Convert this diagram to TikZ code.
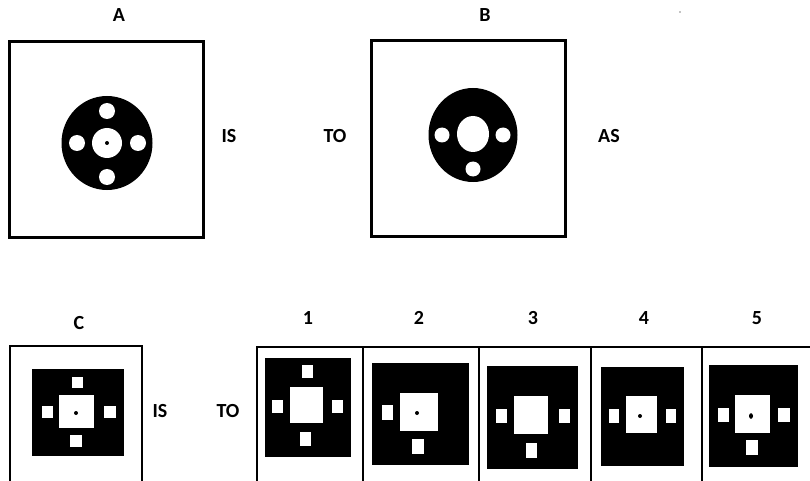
\documentclass[tikz,border=0pt]{standalone}
\usepackage{fontspec}
\setmainfont{Carlito}
\begin{document}
\begin{tikzpicture}[x=1pt,y=-1pt,
  lbl/.style={font=\bfseries\fontsize{20}{22}\selectfont, inner sep=0pt, anchor=center},
  bigframe/.style={draw=black, line width=3pt},
  smallframe/.style={draw=black, line width=2pt},
  blk/.style={fill=black},
  wht/.style={fill=white}]
\path[use as bounding box] (0,0) rectangle (810,481);
\clip (0,0) rectangle (810,481);
\fill[white] (0,0) rectangle (810,481);

% ---- A ----
\draw[bigframe] (9,42) rectangle (203,237);
\fill[blk] (107,143) ellipse [x radius=45.5, y radius=47];
\fill[wht] (107,143) circle [radius=15];
\fill[blk] (107,143) circle [radius=2];
\foreach \p in {(107,111),(77,143),(138,143),(107,177)} \fill[wht] \p circle [radius=8];

% ---- B ----
\draw[bigframe] (371,41) rectangle (565,236);
\fill[blk] (473,135) ellipse [x radius=44.5, y radius=47];
\fill[wht] (473,134) ellipse [x radius=16, y radius=18];
\foreach \p in {(442,135),(503,135),(473,169)} \fill[wht] \p circle [radius=7.5];

% ---- C ----
\draw[smallframe] (10,346) rectangle (142,495);
\fill[blk] (32,369) rectangle (124,456);
\fill[wht] (59,395) rectangle (94,428);
\fill[wht] (72,377) rectangle (83,388);
\fill[wht] (42,406) rectangle (53,418);
\fill[wht] (104,406) rectangle (116,418);
\fill[wht] (70,435) rectangle (82,447);
\fill[blk] (76,413) circle [radius=2];

% ---- options frames ----
\draw[smallframe] (257,347) rectangle (820,495);
\foreach \x in {363,479,591,702} \draw[smallframe] (\x,347) -- (\x,495);

% option 1
\fill[blk] (265,358) rectangle (351,457);
\fill[wht] (290,387) rectangle (323,423);
\fill[wht] (302,365) rectangle (313,378);
\fill[wht] (272,400) rectangle (283,413);
\fill[wht] (332,400) rectangle (343,413);
\fill[wht] (300,432) rectangle (311,446);

% option 2
\fill[blk] (372,363) rectangle (469,465);
\fill[wht] (400,393) rectangle (438,431);
\fill[wht] (382,405) rectangle (393,420);
\fill[wht] (412,439) rectangle (424,454);
\fill[blk] (417,413) circle [radius=2];

% option 3
\fill[blk] (487,366) rectangle (578,469);
\fill[wht] (514,396) rectangle (548,434);
\fill[wht] (496,409) rectangle (507,423);
\fill[wht] (559,409) rectangle (570,423);
\fill[wht] (526,443) rectangle (537,458);

% option 4
\fill[blk] (601,367) rectangle (684,466);
\fill[wht] (626,396) rectangle (657,433);
\fill[wht] (609,409) rectangle (619,423);
\fill[wht] (666,409) rectangle (676,423);
\fill[blk] (640,416) circle [radius=2];

% option 5
\fill[blk] (709,365) rectangle (798,467);
\fill[wht] (735,395) rectangle (770,433);
\fill[wht] (718,408) rectangle (729,422);
\fill[wht] (778,408) rectangle (790,422);
\fill[wht] (746,440) rectangle (758,455);
\fill[blk] (751,416) ellipse [x radius=2, y radius=2.8];

% stray dot
\fill[black] (680,12) circle [radius=0.7];

% ---- labels ----
\node[lbl] (la) at (119,15) {A};
\node[lbl] (lb) at (485,15) {B};
\node[lbl] (is1) at (229,136) {IS};
\node[lbl] (to1) at (335,136) {TO};
\node[lbl] (as) at (609,136) {AS};
\node[lbl] (lc) at (79,323) {C};
\node[lbl] (is2) at (160,411) {IS};
\node[lbl] (to2) at (228,411) {TO};
\node[lbl] (o1) at (308,318) {1};
\node[lbl] (o2) at (419,318) {2};
\node[lbl] (o3) at (533,318) {3};
\node[lbl] (o4) at (644,318) {4};
\node[lbl] (o5) at (757,318) {5};
\end{tikzpicture}
\end{document}
